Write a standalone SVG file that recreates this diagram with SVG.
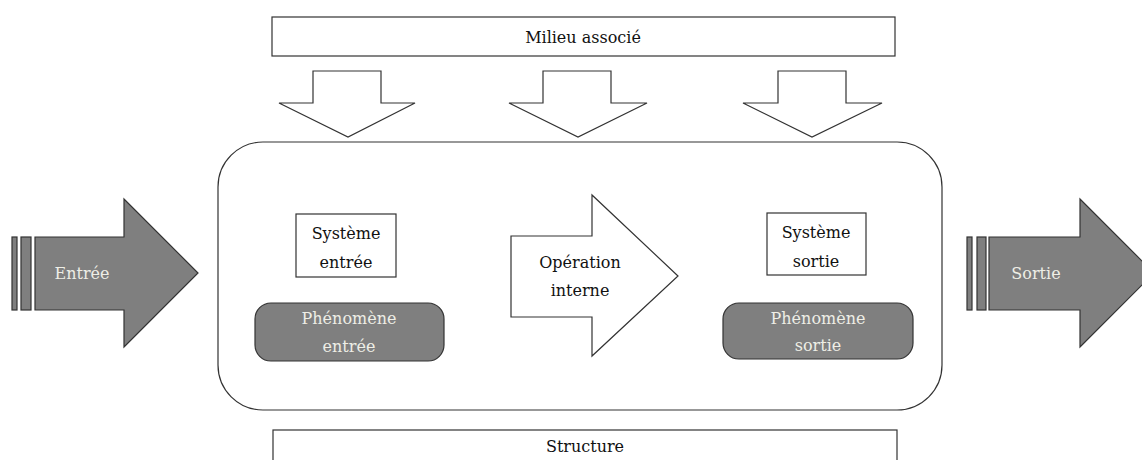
<svg xmlns="http://www.w3.org/2000/svg" width="1142" height="460" viewBox="0 0 1142 460">
<style>
.w{fill:#fff;stroke:#333;stroke-width:1.2}
.g{fill:#7f7f7f;stroke:#333;stroke-width:1.2}
text{font-family:'DejaVu Serif','Liberation Serif',serif;font-size:16px;text-anchor:middle}
.d{fill:#111}
.l{fill:#eeeee6}
</style>
<rect width="1142" height="460" fill="#fff"/>
<g id="milieu"><rect class="w" x="272" y="17" width="623" height="39"/><text class="d" x="583" y="43">Milieu associé</text></g>
<g id="connectors">
<polygon class="w" points="313,71 381,71 381,103 415,103 348,137 279,103 313,103"/>
<polygon class="w" points="543,71 611,71 611,103 647,103 578,137 509,103 543,103"/>
<polygon class="w" points="778,71 846,71 846,103 882,103 812,137 743,103 778,103"/>
</g>
<g id="systeme"><rect class="w" x="218" y="142" width="724" height="268" rx="45" ry="45"/></g>
<g id="entree">
<rect class="g" x="12" y="237" width="5" height="73"/>
<rect class="g" x="21" y="237" width="10" height="73"/>
<polygon class="g" points="35,237 124,237 124,199 198,273 124,347 124,310 35,310"/>
<text class="l" x="82" y="279">Entrée</text>
</g>
<g id="sortie">
<rect class="g" x="967" y="237" width="5" height="73"/>
<rect class="g" x="977" y="237" width="9" height="73"/>
<polygon class="g" points="989,237 1080,237 1080,199 1154,273 1080,347 1080,310 989,310"/>
<text class="l" x="1036" y="279">Sortie</text>
</g>
<g id="systeme-entree"><rect class="w" x="296" y="214" width="100" height="63"/><text class="d" x="346" y="239">Système</text><text class="d" x="346" y="268">entrée</text></g>
<g id="phenomene-entree"><rect class="g" x="255" y="303" width="189" height="58" rx="16" ry="16"/><text class="l" x="349" y="324">Phénomène</text><text class="l" x="349" y="352">entrée</text></g>
<g id="operation"><polygon class="w" points="511,236 592,236 592,195 678,276 592,356 592,317 511,317"/><text class="d" x="580" y="268">Opération</text><text class="d" x="580" y="296">interne</text></g>
<g id="systeme-sortie"><rect class="w" x="767" y="213" width="99" height="62"/><text class="d" x="816" y="238">Système</text><text class="d" x="816" y="267">sortie</text></g>
<g id="phenomene-sortie"><rect class="g" x="723" y="303" width="190" height="56" rx="16" ry="16"/><text class="l" x="818" y="324">Phénomène</text><text class="l" x="818" y="351">sortie</text></g>
<g id="structure"><rect class="w" x="273" y="430" width="624" height="40"/><text class="d" x="585" y="452">Structure</text></g>
</svg>
